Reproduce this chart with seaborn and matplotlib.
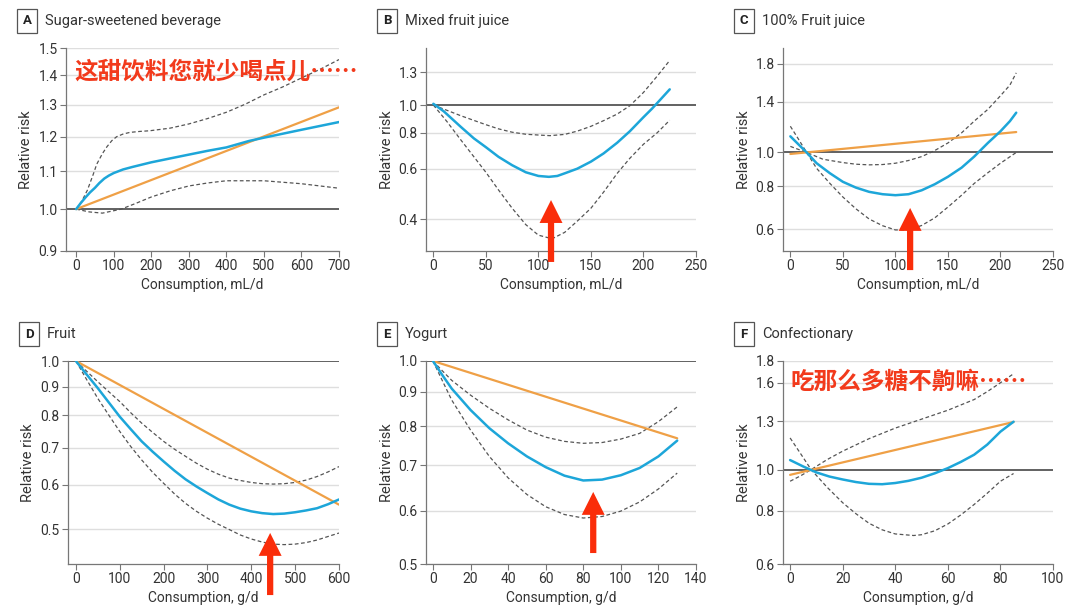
import matplotlib
matplotlib.use("Agg")
import matplotlib.pyplot as plt
import seaborn as sns
import numpy as np
import pandas as pd

# ------------------------------------------------------------------ data ----
# A  Sugar-sweetened beverage (mL/d)
a_x = [0, 12, 25, 37, 50, 62, 75, 87, 100, 125, 150, 200, 250, 300, 350, 400, 460, 500, 600, 700]
a_rr = [1.0, 1.015, 1.03, 1.043, 1.055, 1.068, 1.08, 1.088, 1.095, 1.105, 1.112, 1.125, 1.136,
        1.147, 1.158, 1.168, 1.187, 1.197, 1.221, 1.245]
a_hi_x = [0, 15, 30, 45, 55, 70, 82, 95, 108, 125, 143, 170, 196, 250, 300, 350, 400, 450,
          500, 550, 600, 650, 700]
a_hi = [1.0, 1.02, 1.049, 1.09, 1.12, 1.15, 1.17, 1.188, 1.2, 1.208, 1.213, 1.216, 1.218,
        1.226, 1.239, 1.256, 1.276, 1.302, 1.333, 1.36, 1.391, 1.422, 1.457]
a_lo_x = [0, 35, 70, 120, 160, 200, 250, 300, 350, 400, 500, 600, 700]
a_lo = [1.0, 0.993, 0.99, 1.0, 1.015, 1.031, 1.047, 1.06, 1.068, 1.074, 1.074, 1.066, 1.054]
a_lin_x = [0, 700]
a_lin = [1.0, 1.292]

# B  Mixed fruit juice (mL/d)
b_x = [0, 10, 26, 38.6, 50, 62, 75, 88, 100, 110, 118, 125, 137, 150, 162, 175, 187, 200,
       208, 215, 225]
b_rr = [1.01, 0.95, 0.84, 0.765, 0.713, 0.66, 0.617, 0.583, 0.566, 0.562, 0.566, 0.578, 0.6,
        0.635, 0.678, 0.739, 0.81, 0.907, 0.97, 1.034, 1.134]
b_hi_x = [0, 26, 50, 62, 75, 88, 100, 111, 125, 137, 150, 162, 175, 187, 200, 213, 225]
b_hi = [1.0, 0.918, 0.854, 0.826, 0.804, 0.791, 0.786, 0.782, 0.79, 0.811, 0.843, 0.882,
        0.93, 0.994, 1.106, 1.26, 1.43]
b_lo_x = [0, 13, 26, 38.6, 50, 62, 75, 88, 100, 113, 125, 137, 150, 162, 175, 187, 200, 213, 225]
b_lo = [1.0, 0.875, 0.757, 0.66, 0.583, 0.506, 0.437, 0.383, 0.352, 0.342, 0.36, 0.394, 0.437,
        0.497, 0.578, 0.652, 0.73, 0.8, 0.885]

# C  100% Fruit juice (mL/d)
c_x = [0, 8, 15.5, 25, 37.7, 50, 62.4, 75, 87.8, 100, 112.5, 125, 137.5, 150, 163, 175, 188,
       200, 209, 215]
c_rr = [1.113, 1.053, 1.0, 0.931, 0.871, 0.823, 0.792, 0.77, 0.758, 0.753, 0.758, 0.778, 0.81,
        0.851, 0.904, 0.973, 1.065, 1.151, 1.231, 1.302]
c_hi_x = [0, 15.5, 31, 50, 62.4, 75, 87.8, 100, 112.5, 125, 137.5, 150, 163, 175, 188, 200,
          209, 215]
c_hi = [1.041, 1.0, 0.956, 0.935, 0.925, 0.921, 0.923, 0.931, 0.948, 0.973, 1.013, 1.065,
        1.139, 1.231, 1.331, 1.457, 1.564, 1.696]
c_lo_x = [0, 8, 15.5, 25, 37.7, 50, 62.4, 75, 87.8, 100, 112.5, 125, 137.5, 150, 163, 175,
          188, 200, 215]
c_lo = [1.19, 1.089, 1.0, 0.9, 0.814, 0.744, 0.688, 0.643, 0.615, 0.598, 0.598, 0.616, 0.648,
        0.696, 0.753, 0.814, 0.874, 0.931, 1.0]
c_lin_x = [0, 215]
c_lin = [0.99, 1.145]

# D  Fruit (g/d)
d_x = [0, 25, 50, 75, 100, 125, 150, 175, 200, 225, 250, 275, 300, 325, 350, 375, 400, 425,
       450, 475, 500, 525, 550, 575, 600]
d_rr = [1.0, 0.945, 0.894, 0.843, 0.795, 0.755, 0.718, 0.688, 0.661, 0.636, 0.614, 0.596,
        0.58, 0.565, 0.553, 0.544, 0.538, 0.534, 0.532, 0.533, 0.536, 0.54, 0.545, 0.554, 0.565]
d_hi = [1.0, 0.958, 0.918, 0.881, 0.846, 0.808, 0.774, 0.745, 0.718, 0.695, 0.675, 0.656,
        0.64, 0.627, 0.617, 0.611, 0.606, 0.603, 0.602, 0.603, 0.606, 0.612, 0.621, 0.633, 0.647]
d_lo = [1.0, 0.925, 0.857, 0.8, 0.748, 0.703, 0.665, 0.632, 0.604, 0.578, 0.556, 0.538,
        0.523, 0.51, 0.499, 0.488, 0.48, 0.474, 0.47, 0.469, 0.47, 0.473, 0.478, 0.485, 0.492]
d_lin_x = [0, 600]
d_lin = [1.0, 0.553]

# E  Yogurt (g/d)
e_x = [0, 5, 10, 20, 30, 40, 50, 60, 70, 80, 90, 100, 110, 120, 130]
e_rr = [1.0, 0.953, 0.91, 0.846, 0.795, 0.755, 0.722, 0.696, 0.676, 0.665, 0.667, 0.677,
        0.694, 0.722, 0.762]
e_hi = [1.0, 0.967, 0.936, 0.89, 0.851, 0.818, 0.79, 0.771, 0.76, 0.755, 0.757, 0.766, 0.781,
        0.813, 0.855]
e_lo = [1.0, 0.935, 0.875, 0.79, 0.722, 0.671, 0.634, 0.608, 0.592, 0.585, 0.588, 0.599,
        0.618, 0.646, 0.682]
e_lin_x = [0, 130]
e_lin = [1.0, 0.768]

# F  Confectionary (g/d)
f_x = [0, 5, 10, 15, 20, 25, 30, 35, 40, 45, 50, 55, 60, 65, 70, 75, 80, 85]
f_rr = [1.053, 1.017, 0.985, 0.963, 0.948, 0.935, 0.926, 0.924, 0.93, 0.941, 0.957, 0.98,
        1.008, 1.043, 1.084, 1.145, 1.228, 1.296]
f_hi_x = [0, 4, 8, 14, 20, 30, 40, 50, 60, 70, 75, 80, 85]
f_hi = [0.939, 0.967, 1.0, 1.055, 1.105, 1.182, 1.252, 1.314, 1.379, 1.461, 1.525, 1.6, 1.68]
f_lo_x = [0, 4, 8, 14, 20, 25, 30, 35, 40, 47, 50, 55, 60, 65, 70, 75, 80, 85]
f_lo = [1.187, 1.09, 1.0, 0.91, 0.836, 0.788, 0.748, 0.722, 0.706, 0.7, 0.703, 0.718, 0.745,
        0.783, 0.828, 0.88, 0.939, 0.979]
f_lin_x = [0, 85]
f_lin = [0.972, 1.294]

panels = [
    dict(letter="A", title="Sugar-sweetened beverage", unit="mL/d",
         x=a_x, rr=a_rr, hi_x=a_hi_x, hi=a_hi, lo_x=a_lo_x, lo=a_lo, lin_x=a_lin_x, lin=a_lin,
         xlim=(-27, 700), xticks=range(0, 701, 100),
         ylim=(0.9, 1.5), yticks=[0.9, 1.0, 1.1, 1.2, 1.3, 1.4, 1.5]),
    dict(letter="B", title="Mixed fruit juice", unit="mL/d",
         x=b_x, rr=b_rr, hi_x=b_hi_x, hi=b_hi, lo_x=b_lo_x, lo=b_lo, lin_x=None, lin=None,
         xlim=(-7, 250), xticks=range(0, 251, 50),
         ylim=(0.31, 1.58), yticks=[0.4, 0.6, 0.8, 1.0, 1.3]),
    dict(letter="C", title="100% Fruit juice", unit="mL/d",
         x=c_x, rr=c_rr, hi_x=c_hi_x, hi=c_hi, lo_x=c_lo_x, lo=c_lo, lin_x=c_lin_x, lin=c_lin,
         xlim=(-7, 250), xticks=range(0, 251, 50),
         ylim=(0.52, 2.0), yticks=[0.6, 0.8, 1.0, 1.4, 1.8]),
    dict(letter="D", title="Fruit", unit="g/d",
         x=d_x, rr=d_rr, hi_x=d_x, hi=d_hi, lo_x=d_x, lo=d_lo, lin_x=d_lin_x, lin=d_lin,
         xlim=(-18, 600), xticks=range(0, 601, 100),
         ylim=(0.433, 1.0), yticks=[0.5, 0.6, 0.7, 0.8, 0.9, 1.0]),
    dict(letter="E", title="Yogurt", unit="g/d",
         x=e_x, rr=e_rr, hi_x=e_x, hi=e_hi, lo_x=e_x, lo=e_lo, lin_x=e_lin_x, lin=e_lin,
         xlim=(-3.7, 140), xticks=range(0, 141, 20),
         ylim=(0.5, 1.0), yticks=[0.5, 0.6, 0.7, 0.8, 0.9, 1.0]),
    dict(letter="F", title="Confectionary", unit="g/d",
         x=f_x, rr=f_rr, hi_x=f_hi_x, hi=f_hi, lo_x=f_lo_x, lo=f_lo, lin_x=f_lin_x, lin=f_lin,
         xlim=(-2.7, 100), xticks=range(0, 101, 20),
         ylim=(0.6, 1.8), yticks=[0.6, 0.8, 1.0, 1.3, 1.6, 1.8]),
]

# red arrows: (panel, x in data units, tip and tail in axes fraction)
arrows = [(1, 112, 0.251, -0.054), (2, 114, 0.212, -0.094),
          (3, 443, 0.153, -0.153), (4, 85.3, 0.355, 0.054)]
notes = [(0, "这甜饮料您就少喝点儿……", 0.03, 0.885),
         (5, "吃那么多糖不齁嘛……", 0.026, 0.897)]

# --------------------------------------------------------------- styling ----
sns.set_theme(style="white")
plt.rcParams['font.family'] = ['Roboto', 'DejaVu Sans']
plt.rcParams['axes.unicode_minus'] = False

BLUE = "#1da6d9"
ORANGE = "#efa046"
DASH = "#555555"
RED = "#f23a1c"
TXT = "#333333"

W, H = 1080, 613
fig = plt.figure(figsize=(W / 100, H / 100), dpi=100)

# axes boxes in pixels (left, top, right, bottom)
boxes = [(66, 48, 339, 251), (426, 48, 696, 251), (783, 48, 1053, 251),
         (68, 361, 339, 564), (426, 361, 696, 564), (783, 361, 1053, 564)]

axes = []
for p, (l, t, r, b) in zip(panels, boxes):
    ax = fig.add_axes([l / W, 1 - b / H, (r - l) / W, (b - t) / H])
    axes.append(ax)
    ax.set_yscale("log")
    ax.set_xlim(*p["xlim"])
    ax.set_ylim(*p["ylim"])

    for yv in p["yticks"]:
        if yv != 1.0:
            ax.axhline(yv, color="#dedede", lw=1, zorder=0)
    ax.axhline(1.0, color="#555555", lw=1.3, zorder=1)

    sns.lineplot(x=p["hi_x"], y=p["hi"], ax=ax, color=DASH, lw=0.9,
                 linestyle=(0, (3, 2)), zorder=2)
    sns.lineplot(x=p["lo_x"], y=p["lo"], ax=ax, color=DASH, lw=0.9,
                 linestyle=(0, (3, 2)), zorder=2)
    if p["lin"] is not None:
        sns.lineplot(x=p["lin_x"], y=p["lin"], ax=ax, color=ORANGE, lw=1.6, zorder=3)
    sns.lineplot(x=p["x"], y=p["rr"], ax=ax, color=BLUE, lw=1.8, zorder=4)
    for ln in ax.lines:
        ln.set_solid_joinstyle("round")
        ln.set_dash_joinstyle("round")

    ax.set_yticks(p["yticks"])
    ax.set_yticklabels(["%.1f" % v for v in p["yticks"]])
    ax.yaxis.set_minor_locator(matplotlib.ticker.NullLocator())
    ax.set_xticks(list(p["xticks"]))
    ax.tick_params(axis="both", which="major", length=4, width=0.8, color="#777777",
                   labelsize=10, labelcolor=TXT, pad=2, left=True, bottom=True)
    for s in ["top", "right"]:
        ax.spines[s].set_visible(False)
    for s in ["left", "bottom"]:
        ax.spines[s].set_color("#777777")
        ax.spines[s].set_linewidth(0.9)

    ax.set_ylabel("Relative risk", fontsize=10.5, color=TXT)
    ax.yaxis.set_label_coords(-0.12, 0.5)
    ax.set_xlabel("Consumption, " + p["unit"], fontsize=10, color=TXT)
    ax.xaxis.set_label_coords(0.5, -0.135)

    # letter box + title
    ty = t - 27
    bx = l - 39
    fig.text(bx / W, 1 - ty / H, p["letter"], fontsize=9.5, fontweight="bold", color="#222222",
             ha="center", va="center",
             bbox=dict(boxstyle="square,pad=0.45", fc="white", ec="#555555", lw=0.9))
    fig.text((l - 21) / W, 1 - ty / H, p["title"], fontsize=10.5, color=TXT,
             ha="left", va="center")

for i, xv, tip, tail in arrows:
    axes[i].annotate("", xy=(xv, tip), xytext=(xv, tail),
                     xycoords=("data", "axes fraction"), textcoords=("data", "axes fraction"),
                     arrowprops=dict(arrowstyle="simple,head_length=1.65,head_width=1.65,tail_width=0.45",
                                     color="#fa2d0a", lw=0, shrinkA=0, shrinkB=0, mutation_scale=10),
                     zorder=6, annotation_clip=False)

for i, s, xf, yf in notes:
    axes[i].text(xf, yf, s, transform=axes[i].transAxes, fontsize=17, fontweight="bold",
                 color=RED, ha="left", va="center", zorder=7,
                 family=["Noto Sans CJK SC", "DejaVu Sans"])

fig.savefig("out.png", dpi=100)
